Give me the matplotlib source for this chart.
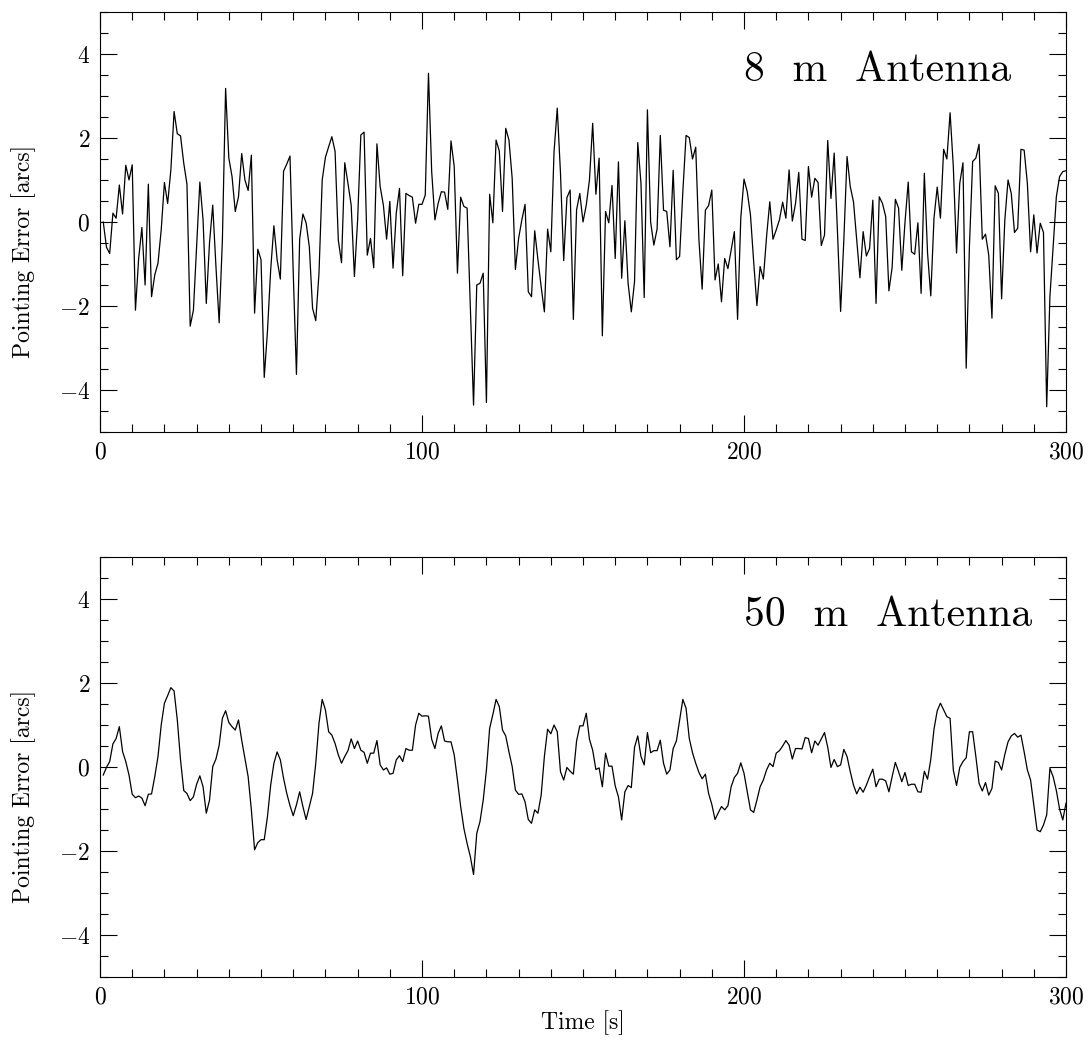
import numpy as np
import matplotlib
matplotlib.use("Agg")
import matplotlib.pyplot as plt
from matplotlib.ticker import MultipleLocator

plt.rcParams['font.family'] = 'cmr10'
plt.rcParams['mathtext.fontset'] = 'cm'
plt.rcParams['axes.formatter.use_mathtext'] = True

# pointing error [arcs], one sample per second (t = 1..300)
err_8m = [
    0.00, -0.60, -0.75, 0.21, 0.09, 0.88, 0.19, 1.35, 1.00, 1.36,
    -2.10, -0.87, -0.13, -1.50, 0.90, -1.78, -1.26, -0.98, -0.19, 0.94,
    0.44, 1.24, 2.63, 2.10, 2.05, 1.40, 0.90, -2.48, -2.10, -0.59,
    0.95, 0.05, -1.94, -0.50, 0.40, -1.06, -2.40, -0.43, 3.18, 1.52,
    1.08, 0.25, 0.60, 1.63, 1.00, 0.75, 1.59, -2.17, -0.65, -0.90,
    -3.70, -2.60, -1.14, -0.09, -0.90, -1.36, 1.21, 1.38, 1.57, -1.20,
    -3.63, -0.41, 0.19, -0.02, -0.59, -2.05, -2.35, -1.22, 1.00, 1.54,
    1.79, 2.03, 1.68, -0.43, -0.97, 1.41, 0.92, 0.40, -1.30, 0.05,
    2.07, 2.14, -0.79, -0.39, -1.09, 1.86, 0.84, 0.40, -0.41, 0.49,
    -1.10, 0.21, 0.80, -1.28, 0.68, 0.63, 0.59, -0.03, 0.42, 0.42,
    0.64, 3.54, 1.20, 0.05, 0.44, 0.72, 0.71, 0.30, 1.93, 1.32,
    -1.22, 0.59, 0.37, 0.33, -2.02, -4.36, -1.50, -1.46, -1.22, -4.30,
    0.66, -0.02, 1.95, 1.69, 0.25, 2.23, 1.95, 1.04, -1.13, -0.39,
    0.05, 0.42, -1.66, -1.78, -0.21, -0.90, -1.54, -2.14, -0.17, -0.71,
    1.67, 2.71, 1.16, -0.92, 0.58, 0.76, -2.32, 0.29, 0.68, 0.00,
    0.40, 1.00, 2.35, 0.66, 1.52, -2.71, 0.25, -0.02, 0.87, -0.87,
    1.43, -1.34, 0.03, -1.46, -2.14, -1.42, 1.89, 0.92, -1.80, 2.67,
    0.00, -0.55, -0.17, 2.06, 0.28, 0.25, -0.59, 1.23, -0.90, -0.82,
    0.72, 2.06, 2.01, 1.50, 1.78, -0.43, -1.60, 0.28, 0.39, 0.76,
    -1.38, -1.00, -1.90, -0.87, -1.11, -0.67, -0.23, -2.32, 0.10, 1.02,
    0.72, 0.17, -0.95, -1.99, -1.06, -1.36, -0.35, 0.48, -0.41, -0.19,
    0.05, 0.47, 0.09, 1.24, 0.02, 0.44, 1.18, -0.41, -0.44, 1.32,
    0.59, 1.04, 0.94, -0.56, -0.31, 1.94, 0.56, 1.64, -0.19, -2.13,
    -0.43, 1.56, 0.84, 0.48, -0.43, -1.33, -0.23, -0.81, -0.63, 0.52,
    -1.94, 0.60, 0.44, 0.13, -1.64, -1.08, 0.54, 0.33, -1.15, 0.00,
    0.95, -0.71, -0.77, -0.02, -1.70, 1.16, -0.74, -1.76, 0.09, 0.83,
    0.09, 1.73, 1.50, 2.60, 1.32, -0.74, 0.92, 1.41, -3.48, -0.59,
    1.44, 1.52, 1.85, -0.41, -0.29, -0.79, -2.29, 0.86, 0.68, -1.83,
    0.05, 1.00, 0.68, -0.25, -0.15, 1.73, 1.71, 0.92, -0.71, 0.17,
    -0.74, -0.03, -0.25, -4.40, -1.78, -0.59, 0.60, 1.08, 1.20, 1.22,
]

err_50m = [
    -0.19, -0.01, 0.13, 0.55, 0.68, 0.96, 0.37, 0.13, -0.19, -0.65,
    -0.73, -0.69, -0.74, -0.92, -0.65, -0.64, -0.23, 0.25, 1.00, 1.52,
    1.70, 1.89, 1.81, 1.12, 0.17, -0.56, -0.63, -0.80, -0.71, -0.41,
    -0.21, -0.47, -1.10, -0.79, 0.01, 0.19, 0.52, 1.16, 1.34, 1.06,
    0.96, 0.88, 1.12, 0.64, 0.21, -0.23, -1.02, -1.97, -1.80, -1.73,
    -1.73, -1.18, -0.43, 0.09, 0.36, 0.17, -0.27, -0.63, -0.92, -1.16,
    -0.90, -0.59, -0.94, -1.25, -0.94, -0.63, 0.09, 1.04, 1.61, 1.36,
    0.84, 0.76, 0.56, 0.29, 0.09, 0.25, 0.39, 0.67, 0.44, 0.62,
    0.40, 0.35, 0.09, 0.33, 0.33, 0.63, 0.05, -0.07, -0.02, -0.17,
    -0.15, 0.17, 0.27, 0.13, 0.44, 0.40, 0.40, 1.00, 1.28, 1.21,
    1.22, 1.21, 0.66, 0.44, 0.80, 0.98, 0.62, 0.60, 0.60, 0.29,
    -0.31, -0.94, -1.46, -1.82, -2.13, -2.56, -1.58, -1.30, -0.79, -0.07,
    0.92, 1.25, 1.61, 1.44, 0.88, 0.74, 0.36, 0.01, -0.55, -0.65,
    -0.64, -0.83, -1.25, -1.34, -1.02, -1.10, -0.67, 0.25, 0.90, 0.79,
    1.00, 0.84, -0.11, -0.31, -0.01, -0.10, -0.17, 0.62, 0.98, 0.98,
    1.28, 0.66, 0.40, -0.06, -0.02, -0.47, 0.33, 0.02, 0.02, -0.45,
    -0.71, -1.26, -0.59, -0.44, -0.49, 0.47, 0.74, 0.25, 0.05, 0.82,
    0.34, 0.39, 0.39, 0.64, 0.09, -0.17, -0.07, 0.44, 0.62, 1.12,
    1.61, 1.40, 0.68, 0.34, 0.09, -0.13, -0.28, -0.17, -0.63, -0.89,
    -1.25, -1.09, -0.94, -1.02, -0.92, -0.47, -0.25, -0.15, 0.10, -0.15,
    -0.58, -1.02, -1.08, -0.79, -0.47, -0.31, -0.07, 0.09, 0.01, 0.33,
    0.39, 0.50, 0.63, 0.52, 0.19, 0.44, 0.44, 0.43, 0.70, 0.68,
    0.34, 0.62, 0.52, 0.67, 0.82, 0.47, -0.01, 0.18, 0.01, 0.05,
    0.42, 0.25, -0.11, -0.43, -0.64, -0.48, -0.60, -0.43, -0.23, -0.05,
    -0.47, -0.29, -0.29, -0.33, -0.59, -0.23, 0.11, -0.11, -0.35, -0.13,
    -0.44, -0.41, -0.41, -0.59, -0.60, -0.10, -0.29, 0.18, 0.90, 1.34,
    1.52, 1.36, 1.20, 1.16, -0.07, -0.44, -0.01, 0.13, 0.22, 0.84,
    0.84, 0.25, -0.39, -0.57, -0.37, -0.67, -0.51, 0.14, 0.11, -0.07,
    0.30, 0.60, 0.74, 0.80, 0.71, 0.76, 0.36, -0.07, -0.31, -0.90,
    -1.50, -1.54, -1.38, -1.14, -0.03, -0.23, -0.56, -1.00, -1.26, -0.86,
]

time_8m = np.arange(1, len(err_8m) + 1)
time_50m = np.arange(1, len(err_50m) + 1)

panels = [
    (time_8m, err_8m, "8  m  Antenna"),
    (time_50m, err_50m, "50  m  Antenna"),
]

fig = plt.figure(figsize=(10.92, 10.5), dpi=100)
rects = [[0.0916, 0.5886, 0.8846, 0.40], [0.0916, 0.0695, 0.8846, 0.40]]

for rect, (t, e, title) in zip(rects, panels):
    ax = fig.add_axes(rect)
    ax.plot(t, e, color='black', lw=0.9)
    ax.set_xlim(0, 300)
    ax.set_ylim(-5, 5)
    ax.xaxis.set_major_locator(MultipleLocator(100))
    ax.xaxis.set_minor_locator(MultipleLocator(10))
    ax.yaxis.set_major_locator(MultipleLocator(2))
    ax.yaxis.set_minor_locator(MultipleLocator(0.5))
    ax.tick_params(which='both', direction='in', top=True, right=True,
                   width=0.8, labelsize=17)
    ax.tick_params(which='major', length=12, pad=7)
    ax.tick_params(which='minor', length=6)
    ax.set_ylabel("Pointing Error [arcs]", fontsize=17)
    ax.yaxis.set_label_coords(-0.066, 0.43)
    ax.text(200, 3.35, title, ha='left', va='baseline', fontsize=30)
    for s in ax.spines.values():
        s.set_linewidth(0.8)

ax.set_xlabel("Time [s]", fontsize=17, labelpad=1)

fig.savefig("out.png", dpi=100)
